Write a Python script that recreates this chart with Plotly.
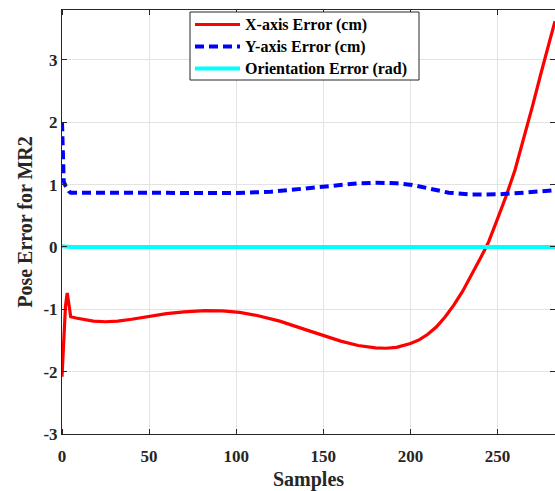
import plotly.graph_objects as go

# Red: X-axis error (cm)
x_err_samples = [0, 1, 2, 3, 4, 5, 8, 12, 18, 25, 32, 40, 50, 60, 70, 82, 92, 102, 112, 125,
                 138, 150, 160, 170, 180, 186, 192, 200, 205, 210, 215, 220, 225, 230, 235,
                 240, 243.5, 245, 250, 255, 260, 265, 270, 275, 280, 283]
x_err_values = [-2.08, -1.4, -0.95, -0.74, -0.95, -1.12, -1.14, -1.16, -1.19, -1.20, -1.19, -1.16,
                -1.11, -1.07, -1.04, -1.02, -1.025, -1.05, -1.10, -1.19, -1.31, -1.42, -1.51,
                -1.58, -1.62, -1.625, -1.61, -1.55, -1.49, -1.40, -1.28, -1.12, -0.93, -0.71,
                -0.46, -0.19, 0.0, 0.09, 0.45, 0.82, 1.23, 1.72, 2.25, 2.79, 3.32, 3.62]

# Blue: Y-axis error (cm)
y_err_samples = [0, 0.5, 1, 2, 3, 4, 5, 10, 20, 40, 60, 80, 100, 120, 136, 150, 160, 170, 181,
                 192, 201, 207, 213, 222, 235, 245, 251, 265, 277, 283]
y_err_values = [2.0, 1.6, 1.05, 0.98, 0.93, 0.89, 0.87, 0.87, 0.875, 0.875, 0.865, 0.86, 0.865,
                0.885, 0.93, 0.97, 0.995, 1.02, 1.03, 1.02, 0.995, 0.96, 0.915, 0.87, 0.84,
                0.835, 0.845, 0.87, 0.9, 0.91]

# Cyan: orientation error (rad)
o_err_samples = [0, 2, 5, 50, 100, 150, 200, 250, 283]
o_err_values = [0.01, 0.0, 0.0, 0.0, 0.0, 0.0, 0.0, 0.0, 0.0]

x_ticks = [0, 50, 100, 150, 200, 250]
y_ticks = [-3, -2, -1, 0, 1, 2, 3]

series_names = ["X-axis Error (cm)", "Y-axis Error (cm)", "Orientation Error (rad)"]
series_colors = ["#ff0000", "#0000ff", "#00ffff"]
series_widths = [3.2, 4, 4]
series_dashes = ["solid", "9px,5px", "solid"]

FONT = "Liberation Serif"
AX = "#262626"

W, H = 555, 491
ML, MR, MT, MB = 62, 0, 10, 57
PW, PH = W - ML - MR, H - MT - MB


def px(xp):
    return (xp - ML) / PW


def py(yp):
    return (H - MB - yp) / PH


fig = go.Figure()
all_series = [(x_err_samples, x_err_values), (y_err_samples, y_err_values),
              (o_err_samples, o_err_values)]
for (xs, ys), nm, c, w, d in zip(all_series, series_names, series_colors, series_widths,
                                 series_dashes):
    fig.add_trace(go.Scatter(x=xs, y=ys, mode="lines", name=nm,
                             line=dict(color=c, width=w, dash=d), showlegend=False))

# legend box drawn in paper coordinates
shapes = [dict(type="rect", xref="paper", yref="paper",
               x0=px(190), x1=px(419), y0=py(80), y1=py(12),
               fillcolor="white", line=dict(color=AX, width=1), layer="above")]
annotations = []
entry_y = [24.5, 46.5, 68.5]
for nm, c, w, d, ey in zip(series_names, series_colors, series_widths, series_dashes, entry_y):
    shapes.append(dict(type="line", xref="paper", yref="paper",
                       x0=px(195), x1=px(240), y0=py(ey), y1=py(ey),
                       line=dict(color=c, width=w, dash=d), layer="above"))
    annotations.append(dict(text=nm, xref="paper", yref="paper", x=px(243), y=py(ey),
                            xanchor="left", yanchor="middle", showarrow=False,
                            font=dict(family=FONT, size=16, color="#000000", weight="bold")))

fig.update_layout(
    width=W, height=H,
    margin=dict(l=ML, r=MR, t=MT, b=MB),
    paper_bgcolor="white", plot_bgcolor="white",
    font=dict(family=FONT, color=AX),
    showlegend=False,
    shapes=shapes,
    annotations=annotations,
)
fig.update_xaxes(
    range=[0, 283], tickvals=x_ticks, ticktext=[str(v) for v in x_ticks],
    showgrid=True, gridcolor="#e3e3e3", gridwidth=1, zeroline=False,
    showline=True, linecolor=AX, linewidth=1, mirror="ticks",
    ticks="outside", ticklen=7, tickcolor="rgba(0,0,0,0)",
    minor=dict(tickvals=x_ticks, ticks="inside", ticklen=5, tickcolor=AX, showgrid=False),
    tickfont=dict(family=FONT, size=17, color=AX, weight="bold"),
    title=dict(text="Samples", font=dict(family=FONT, size=20, color=AX, weight="bold"),
               standoff=6),
)
fig.update_yaxes(
    range=[-3, 3.8], tickvals=y_ticks, ticktext=[str(v) for v in y_ticks],
    showgrid=True, gridcolor="#e3e3e3", gridwidth=1, zeroline=False,
    showline=True, linecolor=AX, linewidth=1, mirror="ticks",
    ticks="inside", ticklen=5, tickcolor=AX,
    tickfont=dict(family=FONT, size=17, color=AX, weight="bold"),
    title=dict(text="Pose Error for MR2", font=dict(family=FONT, size=20, color=AX, weight="bold"),
               standoff=5),
)

fig.write_html("out.html")
